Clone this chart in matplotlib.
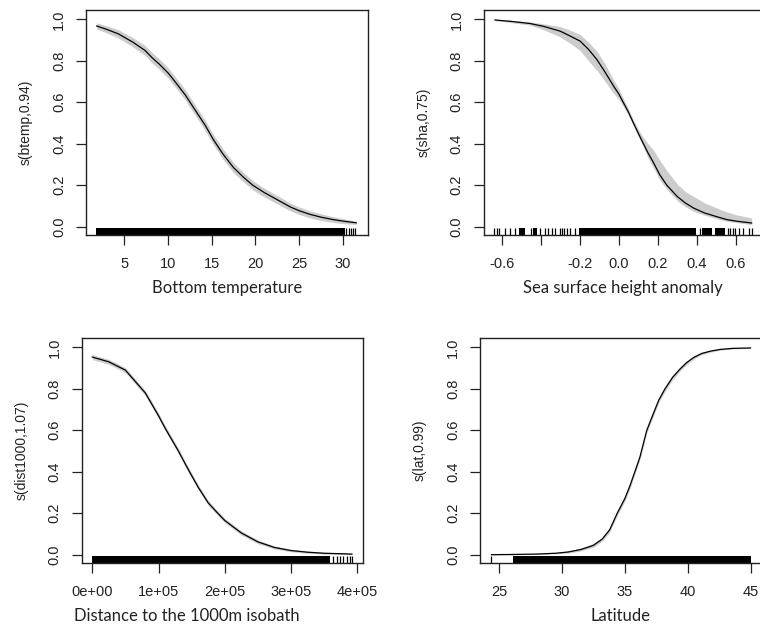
import numpy as np
import matplotlib.pyplot as plt

# Panel 1: bottom temperature
btemp_x = [1.88, 3.0, 4.35, 6.0, 7.4, 8.2, 9.0, 10.06, 11.0, 12.0, 13.0, 14.25, 15.2, 16.3, 17.5,
           18.6, 19.7, 21.0, 22.5, 24.0, 25.0, 26.2, 27.5, 28.8, 30.0, 31.5]
btemp_y = [0.968, 0.952, 0.93, 0.89, 0.85, 0.815, 0.785, 0.74, 0.69, 0.635, 0.57, 0.49, 0.42, 0.35, 0.285,
           0.24, 0.20, 0.165, 0.13, 0.095, 0.077, 0.06, 0.046, 0.035, 0.027, 0.019]
btemp_se = [0.015, 0.017, 0.02, 0.022, 0.024, 0.025, 0.025, 0.025, 0.025, 0.025, 0.025, 0.025, 0.025, 0.025, 0.024,
            0.023, 0.022, 0.021, 0.02, 0.019, 0.018, 0.017, 0.016, 0.014, 0.012, 0.008]
btemp_rug_solid = [(1.8, 30.2)]
btemp_rug_ticks = [30.34, 30.65, 30.87, 31.17, 31.4]

# Panel 2: sea surface height anomaly
sha_x = [-0.634, -0.55, -0.455, -0.38, -0.3, -0.25, -0.198, -0.155, -0.113, -0.07, -0.028, 0.0, 0.048, 0.075,
         0.1, 0.126, 0.15, 0.177, 0.21, 0.246, 0.3, 0.34, 0.383, 0.44, 0.503, 0.55, 0.6, 0.68]
sha_y = [0.997, 0.99, 0.98, 0.965, 0.943, 0.92, 0.895, 0.855, 0.807, 0.745, 0.68, 0.64, 0.555, 0.50,
         0.45, 0.40, 0.355, 0.31, 0.25, 0.20, 0.145, 0.115, 0.09, 0.066, 0.048, 0.035, 0.027, 0.018]
sha_hi = [1.0, 0.995, 0.988, 0.978, 0.965, 0.948, 0.927, 0.89, 0.847, 0.785, 0.71, 0.665, 0.57, 0.515,
          0.47, 0.43, 0.40, 0.37, 0.32, 0.27, 0.205, 0.17, 0.146, 0.115, 0.09, 0.072, 0.058, 0.042]
sha_lo = [0.993, 0.984, 0.972, 0.948, 0.915, 0.885, 0.85, 0.80, 0.755, 0.70, 0.645, 0.615, 0.54, 0.485,
          0.435, 0.385, 0.33, 0.285, 0.225, 0.18, 0.125, 0.097, 0.074, 0.055, 0.038, 0.027, 0.02, 0.01]
sha_rug_solid = [(-0.511, -0.480), (-0.438, -0.420), (-0.202, 0.395), (0.425, 0.477), (0.490, 0.545)]
sha_rug_ticks = [-0.638, -0.626, -0.614, -0.583, -0.557, -0.532, -0.450, -0.404, -0.378, -0.361,
                 -0.344, -0.327, -0.301, -0.289, -0.279, -0.267, -0.250, -0.224, 0.417,
                 0.559, 0.571, 0.583, 0.597, 0.613, 0.636, 0.665, 0.682]

# Panel 3: distance to 1000 m isobath
dist_x = [0, 0.25e5, 0.5e5, 0.8e5, 1.0e5, 1.1e5, 1.2e5, 1.3e5, 1.45e5, 1.6e5, 1.75e5, 1.88e5, 2.0e5,
          2.25e5, 2.5e5, 2.75e5, 3.0e5, 3.25e5, 3.5e5, 3.92e5]
dist_y = [0.953, 0.93, 0.89, 0.78, 0.67, 0.61, 0.555, 0.50, 0.41, 0.325, 0.25, 0.205, 0.165,
          0.105, 0.062, 0.035, 0.02, 0.012, 0.007, 0.003]
dist_se = [0.012, 0.012, 0.012, 0.013, 0.013, 0.013, 0.013, 0.013, 0.013, 0.012, 0.012, 0.011, 0.011,
           0.01, 0.009, 0.007, 0.006, 0.005, 0.004, 0.003]
dist_rug_solid = [(0, 3.59e5)]
dist_rug_ticks = [3.64e5, 3.69e5, 3.74e5, 3.79e5, 3.84e5, 3.89e5, 3.92e5]

# Panel 4: latitude
lat_x = [24.4, 26.0, 28.0, 29.5, 30.5, 31.5, 32.5, 33.2, 33.8, 34.4, 35.0, 35.4, 35.8, 36.2, 36.75,
         37.27, 37.7, 38.2, 38.8, 39.39, 39.9, 40.45, 41.1, 41.77, 42.6, 43.6, 45.0]
lat_y = [0.0, 0.001, 0.003, 0.007, 0.013, 0.025, 0.045, 0.075, 0.12, 0.2, 0.27, 0.33, 0.40, 0.47, 0.60,
         0.68, 0.745, 0.80, 0.855, 0.895, 0.925, 0.95, 0.97, 0.981, 0.99, 0.995, 0.997]
lat_se = [0.001, 0.001, 0.002, 0.003, 0.005, 0.007, 0.009, 0.01, 0.011, 0.012, 0.013, 0.013, 0.013, 0.013, 0.013,
          0.013, 0.012, 0.012, 0.011, 0.01, 0.009, 0.008, 0.006, 0.005, 0.004, 0.003, 0.002]
lat_rug_solid = [(26.1, 45.0)]
lat_rug_ticks = [24.4]

tick_font = 'Liberation Sans'
label_font = 'Lato'


def panel(rect, x, y, lo, hi, solid, ticks, xlim, xticks, xticklabels, xlabel, ylabel):
    ax = fig.add_axes(rect)
    ax.fill_between(x, lo, hi, color='#cccccc', lw=0)
    ax.plot(x, y, color='black', lw=0.9)
    for a, b in solid:
        ax.axvspan(a, b, ymin=0, ymax=0.031, color='black', lw=0)
    ax.vlines(ticks, 0, 0.031, transform=ax.get_xaxis_transform(), color='black', lw=0.9)
    ax.set_xlim(xlim)
    ax.set_ylim(-0.04, 1.045)
    ax.set_xticks(xticks)
    ax.set_xticklabels(xticklabels, family=tick_font, fontsize=10.5, color='#222222')
    ax.set_yticks([0, 0.2, 0.4, 0.6, 0.8, 1.0])
    ax.set_yticklabels(['0.0', '0.2', '0.4', '0.6', '0.8', '1.0'], family=tick_font,
                       fontsize=10.5, rotation=90, va='center', color='#222222')
    ax.tick_params(direction='out', length=7, width=0.9, color='#222222')
    ax.tick_params(axis='x', pad=9)
    ax.tick_params(axis='y', pad=7.5)
    for s in ax.spines.values():
        s.set_linewidth(1.0)
        s.set_color('#222222')
    ax.set_xlabel(xlabel, family=label_font, fontsize=12, labelpad=6, color='#222222')
    ax.set_ylabel(ylabel, family=tick_font, fontsize=10, labelpad=13.5, color='#222222')
    return ax


fig = plt.figure(figsize=(7.6, 6.34), dpi=100)

b1_lo = [v - s for v, s in zip(btemp_y, btemp_se)]
b1_hi = [v + s for v, s in zip(btemp_y, btemp_se)]
panel([0.1132, 0.6293, 0.371, 0.3549], btemp_x, btemp_y, b1_lo, b1_hi,
      btemp_rug_solid, btemp_rug_ticks, (0.66, 32.85), [5, 10, 15, 20, 25, 30],
      ['5', '10', '15', '20', '25', '30'], 'Bottom temperature', 's(btemp,0.94)')

panel([0.6364, 0.6293, 0.3662, 0.3549], sha_x, sha_y, sha_lo, sha_hi,
      sha_rug_solid, sha_rug_ticks, (-0.692, 0.733), [-0.6, -0.4, -0.2, 0.0, 0.2, 0.4, 0.6],
      ['-0.6', '', '-0.2', '0.0', '0.2', '0.4', '0.6'], 'Sea surface height anomaly', 's(sha,0.75)')

d_lo = [v - s for v, s in zip(dist_y, dist_se)]
d_hi = [v + s for v, s in zip(dist_y, dist_se)]
ax3 = panel([0.1075, 0.112, 0.370, 0.3549], dist_x, dist_y, d_lo, d_hi,
            dist_rug_solid, dist_rug_ticks, (-0.16e5, 4.086e5), [0, 1e5, 2e5, 3e5, 4e5],
            ['0e+00', '1e+05', '2e+05', '3e+05', '4e+05'], 'Distance to the 1000m isobath', 's(dist1000,1.07)')
# this label sits left of centre in the original
ax3.xaxis.label.set_x(0.374)

l_lo = [v - s for v, s in zip(lat_y, lat_se)]
l_hi = [v + s for v, s in zip(lat_y, lat_se)]
panel([0.6316, 0.112, 0.3697, 0.3549], lat_x, lat_y, l_lo, l_hi,
      lat_rug_solid, lat_rug_ticks, (23.49, 45.83), [25, 30, 35, 40, 45],
      ['25', '30', '35', '40', '45'], 'Latitude', 's(lat,0.99)')

fig.savefig('out.png', dpi=100)
